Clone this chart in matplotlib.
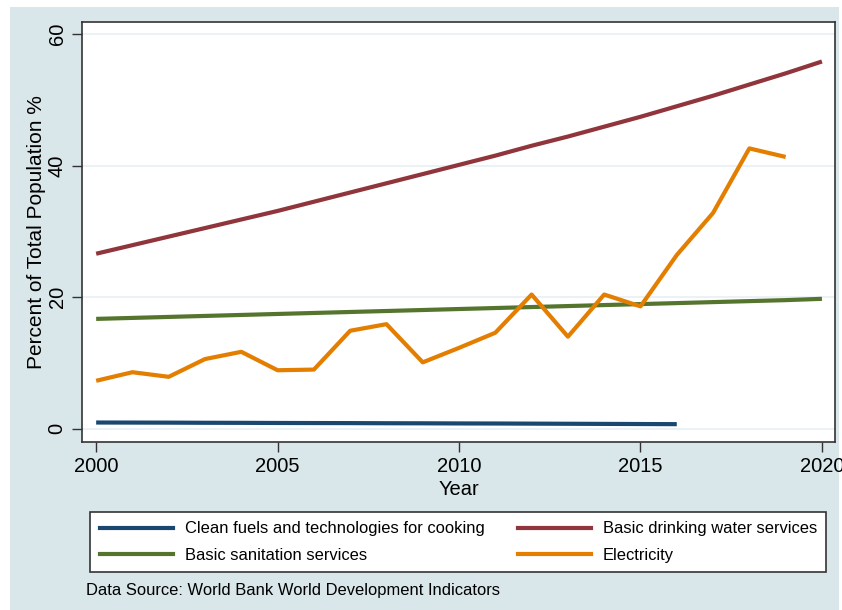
import matplotlib
matplotlib.use("Agg")
import matplotlib.pyplot as plt
from matplotlib.patches import Rectangle
from matplotlib.lines import Line2D

plt.rcParams['font.family'] = ['Liberation Sans', 'DejaVu Sans']

years = list(range(2000, 2021))
water = [26.6, 27.9, 29.2, 30.5, 31.8, 33.1, 34.5, 35.9, 37.3, 38.7, 40.1,
         41.5, 43.0, 44.4, 45.9, 47.4, 49.0, 50.6, 52.3, 54.0, 55.8]
sanitation = [16.7, 16.85, 17.0, 17.15, 17.3, 17.45, 17.6, 17.75, 17.9, 18.05, 18.2,
              18.35, 18.5, 18.65, 18.8, 18.95, 19.1, 19.25, 19.4, 19.55, 19.75]
cooking_years = list(range(2000, 2017))
cooking = [0.96, 0.95, 0.94, 0.92, 0.91, 0.89, 0.88, 0.87, 0.85, 0.84, 0.82,
           0.81, 0.79, 0.77, 0.75, 0.73, 0.71]
elec_years = list(range(2000, 2020))
electricity = [7.3, 8.6, 7.9, 10.6, 11.7, 8.9, 9.0, 14.9, 15.9, 10.1, 12.3,
               14.6, 20.4, 14.0, 20.4, 18.6, 26.4, 32.8, 42.6, 41.3]

x_ticks = [2000, 2005, 2010, 2015, 2020]
y_ticks = [0, 20, 40, 60]

label_cooking = "Clean fuels and technologies for cooking"
label_water = "Basic drinking water services"
label_sanitation = "Basic sanitation services"
label_electricity = "Electricity"
colors = {"navy": "#1a476f", "maroon": "#90353b", "green": "#55752f", "orange": "#e37e00"}

fig = plt.figure(figsize=(8.42, 6.10), dpi=100, facecolor="white")
fig.add_artist(Rectangle((10 / 842, 0), 829 / 842, 1 - 7 / 610,
                         transform=fig.transFigure, facecolor="#d9e6ea",
                         edgecolor="none", zorder=-5))

ax = fig.add_axes([82 / 842, 1 - 442 / 610, 753 / 842, 420 / 610])
ax.set_facecolor("white")
lw = 3.0
ax.plot(cooking_years, cooking, color=colors["navy"], lw=lw, solid_capstyle="butt")
ax.plot(years, water, color=colors["maroon"], lw=lw, solid_capstyle="butt")
ax.plot(years, sanitation, color=colors["green"], lw=lw, solid_capstyle="butt")
ax.plot(elec_years, electricity, color=colors["orange"], lw=lw, solid_capstyle="butt")

ax.set_xlim(1999.61, 2020.36)
ax.set_ylim(-2.0, 61.8)
ax.set_xticks(x_ticks)
ax.set_yticks(y_ticks)
ax.set_xticklabels([str(v) for v in x_ticks], fontsize=14.5)
ax.set_yticklabels([str(v) for v in y_ticks], fontsize=14.5, rotation=90, va="center")
ax.tick_params(direction="out", length=7, width=1.0, color="#333333", pad=4)
ax.grid(axis="y", color="#e8f0f3", lw=1.2)
ax.set_axisbelow(True)
for s in ax.spines.values():
    s.set_color("#333333")
    s.set_linewidth(1.2)

ax.set_xlabel("Year", fontsize=14.5, labelpad=3)
ax.set_ylabel("Percent of Total Population %", fontsize=15, labelpad=1)

# legend filled column-wise, so list entries so rows read cooking/water, sanitation/electricity
handles = [Line2D([], [], color=colors["navy"], lw=lw),
           Line2D([], [], color=colors["green"], lw=lw),
           Line2D([], [], color=colors["maroon"], lw=lw),
           Line2D([], [], color=colors["orange"], lw=lw)]
labels = [label_cooking, label_sanitation, label_water, label_electricity]
leg = fig.legend(handles, labels, ncol=2, loc="upper left",
                 bbox_to_anchor=(90 / 842, 1 - 511.7 / 610),
                 fontsize=11.9, frameon=True, fancybox=False,
                 framealpha=1.0, handlelength=4.45, handletextpad=0.7,
                 borderaxespad=0, borderpad=0.58, labelspacing=0.7, columnspacing=2.0)
leg.get_frame().set_edgecolor("#333333")
leg.get_frame().set_linewidth(1.2)
leg.get_frame().set_facecolor("white")

fig.text(86 / 842, 1 - 591 / 610, "Data Source: World Bank World Development Indicators",
         fontsize=11.9, va="center", ha="left")

fig.savefig("out.png", dpi=100, facecolor="white")
